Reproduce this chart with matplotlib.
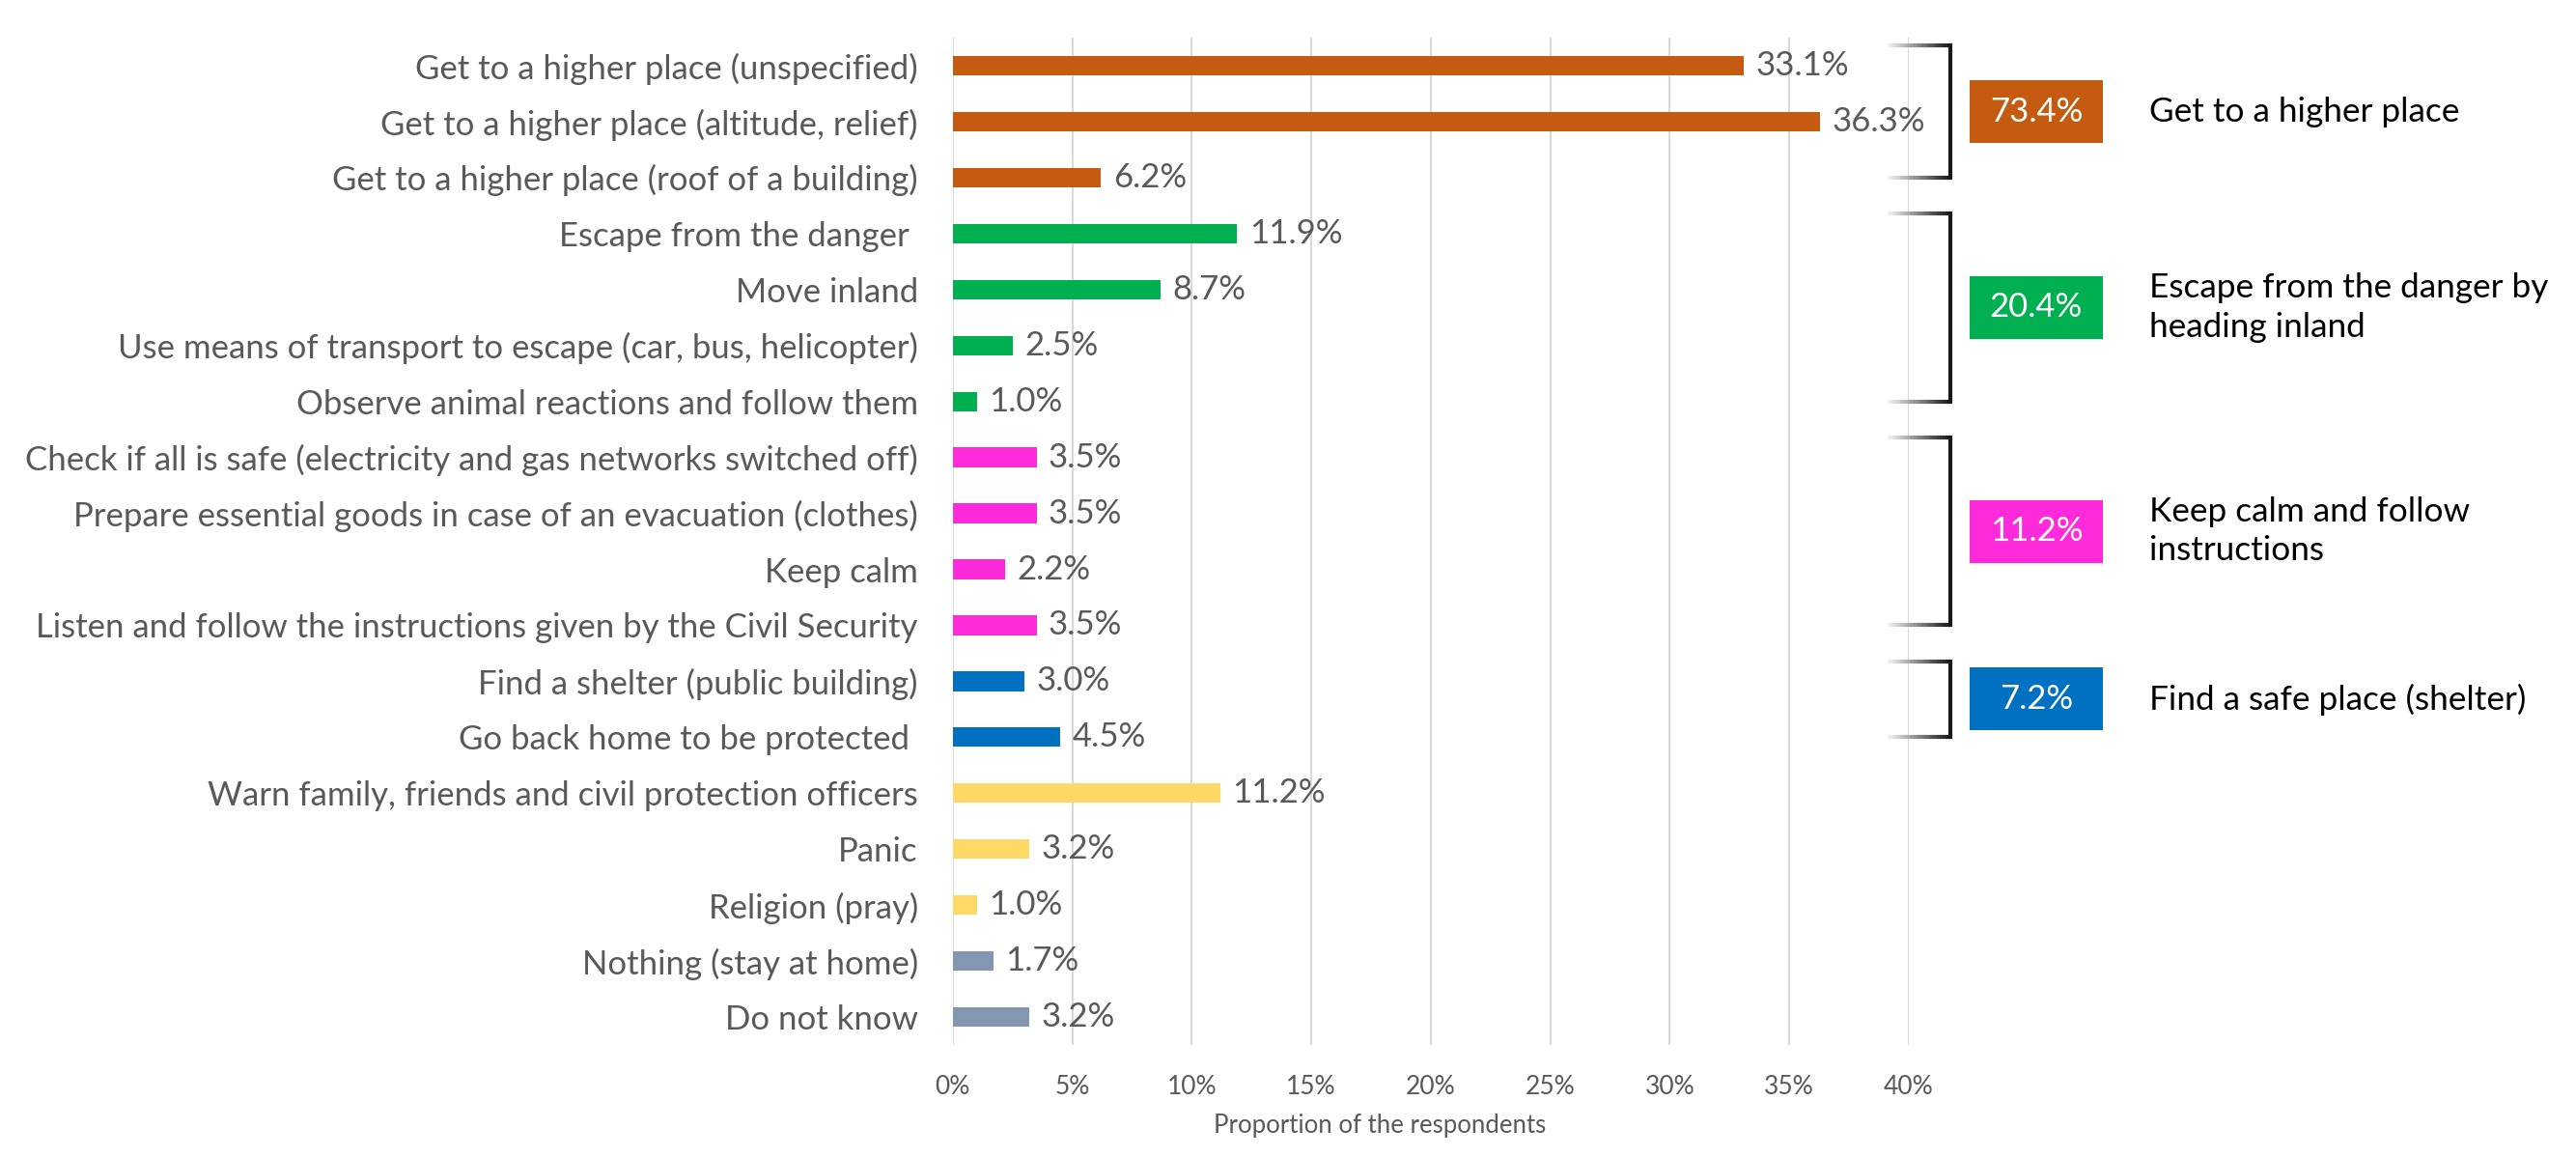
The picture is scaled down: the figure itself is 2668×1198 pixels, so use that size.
import numpy as np
import matplotlib
matplotlib.use("Agg")
import matplotlib.pyplot as plt
from matplotlib.patches import Rectangle
from matplotlib.collections import LineCollection

plt.rcParams["font.family"] = ["Lato", "DejaVu Sans"]

# Data
categories = [
    "Get to a higher place (unspecified)",
    "Get to a higher place (altitude, relief)",
    "Get to a higher place (roof of a building)",
    "Escape from the danger ",
    "Move inland",
    "Use means of transport to escape (car, bus, helicopter)",
    "Observe animal reactions and follow them",
    "Check if all is safe (electricity and gas networks switched off)",
    "Prepare essential goods in case of an evacuation (clothes)",
    "Keep calm",
    "Listen and follow the instructions given by the Civil Security",
    "Find a shelter (public building)",
    "Go back home to be protected ",
    "Warn family, friends and civil protection officers",
    "Panic",
    "Religion (pray)",
    "Nothing (stay at home)",
    "Do not know",
]
values = [33.1, 36.3, 6.2, 11.9, 8.7, 2.5, 1.0, 3.5, 3.5, 2.2, 3.5, 3.0, 4.5,
          11.2, 3.2, 1.0, 1.7, 3.2]
bar_groups = [0, 0, 0, 1, 1, 1, 1, 2, 2, 2, 2, 3, 3, 4, 4, 4, 5, 5]

group_colors = ["#C55A11", "#00B050", "#FF2BDB", "#0070C0", "#FFD966", "#8497B0"]
group_totals = ["73.4%", "20.4%", "11.2%", "7.2%"]
group_names = ["Get to a higher place",
               "Escape from the danger by\nheading inland",
               "Keep calm and follow\ninstructions",
               "Find a safe place (shelter)"]
group_rows = [(0, 2), (3, 6), (7, 10), (11, 12)]

x_ticks = [0, 5, 10, 15, 20, 25, 30, 35, 40]

text_gray = "#595959"

fig = plt.figure(figsize=(26.68, 11.98), dpi=100)
ax = fig.add_axes([0.3699, 0.0968, 0.3711, 0.8706])

y = np.arange(len(categories))
colors = [group_colors[g] for g in bar_groups]
ax.barh(y, values, height=0.35, color=colors, zorder=3)

for yi, v in zip(y, values):
    ax.text(v + 0.5, yi, f"{v:.1f}%", va="center", ha="left",
            fontsize=25, color=text_gray, zorder=4)

ax.set_xlim(0, 40)
ax.set_ylim(len(categories) - 0.5, -0.5)
ax.set_xticks(x_ticks)
ax.set_xticklabels([f"{t}%" for t in x_ticks], fontsize=19, color=text_gray)
ax.set_yticks(y)
ax.set_yticklabels(categories, fontsize=25, color=text_gray)
ax.tick_params(axis="both", length=0)
ax.tick_params(axis="y", pad=26)
ax.tick_params(axis="x", pad=22)
ax.set_xlabel("Proportion of the respondents", fontsize=18.5, color=text_gray)
ax.xaxis.set_label_coords(0.4465, -0.068)
ax.grid(axis="x", color="#D9D9D9", linewidth=1.5, zorder=0)
for s in ax.spines.values():
    s.set_visible(False)

# Brackets, summary boxes and group names on the right
bx = 41.74
arm_left = 39.1
for (r0, r1), total, name, col in zip(group_rows, group_totals, group_names,
                                     group_colors):
    top = r0 - 0.36
    bot = r1
    ax.plot([bx, bx], [top, bot], color="#1A1A1A", lw=3, clip_on=False,
            solid_capstyle="projecting")
    xs = np.linspace(arm_left, bx, 25)
    shades = np.linspace(0.95, 0.1, 24)
    for yy in (top, bot):
        segs = [[(xs[i], yy), (xs[i + 1], yy)] for i in range(24)]
        lc = LineCollection(segs, colors=[(s, s, s) for s in shades],
                            linewidths=3, clip_on=False)
        ax.add_collection(lc)
    mid = (top + bot) / 2
    ax.add_patch(Rectangle((42.55, mid - 0.56), 5.57, 1.12, facecolor=col,
                           edgecolor="none", clip_on=False))
    ax.text(45.33, mid, total, ha="center", va="center", fontsize=25,
            color="white")
    ax.text(50.06, mid, name, ha="left", va="center", fontsize=25.3,
            color="black", linespacing=1.33)

fig.savefig("out.png", dpi=100)
